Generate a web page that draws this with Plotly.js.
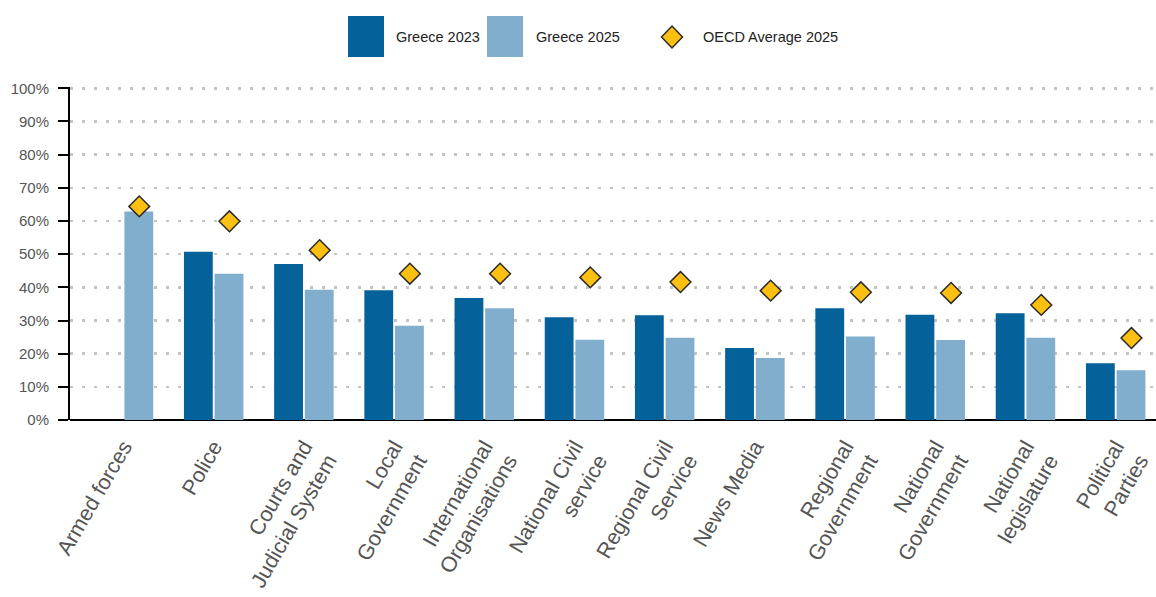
<!DOCTYPE html>
<html>
<head>
<meta charset="utf-8">
<script src="https://cdn.plot.ly/plotly-3.0.1.min.js"></script>
<style>html,body{margin:0;padding:0;background:#fff;}#chart{width:1156px;height:597px;}</style>
</head>
<body>
<div id="chart"></div>
<script>
const categories = ["Armed forces", "Police", "Courts and<br>Judicial System", "Local<br>Government",
  "International<br>Organisations", "National Civil<br>service", "Regional Civil<br>Service", "News Media",
  "Regional<br>Government", "National<br>Government", "National<br>legislature", "Political<br>Parties"];
const greece2023 = [null, 50.7, 47.0, 39.1, 36.8, 31.0, 31.6, 21.7, 33.7, 31.7, 32.2, 17.1];
const greece2025 = [62.9, 44.1, 39.3, 28.4, 33.7, 24.2, 24.8, 18.7, 25.2, 24.1, 24.8, 15.0];
const oecd2025   = [64.4, 59.9, 51.2, 44.1, 44.1, 43.0, 41.6, 39.0, 38.5, 38.3, 34.7, 24.7];
const yTicks = [0, 10, 20, 30, 40, 50, 60, 70, 80, 90, 100];
const yTickLabels = ["0%", "10%", "20%", "30%", "40%", "50%", "60%", "70%", "80%", "90%", "100%"];
const seriesNames = ["Greece 2023", "Greece 2025", "OECD Average 2025"];
const seriesColors = ["#046199", "#80AECC", "#FDC010"];

const FONT = '"Liberation Sans", Arial, sans-serif';
const r0 = -0.593, r1 = 11.447, shift = 0.175;

const traces = [
  {type: 'bar', name: seriesNames[0], x: categories, y: greece2023,
   marker: {color: seriesColors[0]}, showlegend: false},
  {type: 'bar', name: seriesNames[1], x: categories, y: greece2025,
   marker: {color: seriesColors[1]}, showlegend: false},
  {type: 'scatter', mode: 'markers', name: seriesNames[2], x: categories, y: oecd2025,
   xaxis: 'x2', yaxis: 'y', showlegend: false,
   marker: {symbol: 'diamond', size: 16, color: seriesColors[2], line: {color: '#2a2a2a', width: 1.5}}}
];

// custom legend (large swatches as in the original)
const T = 87, B = 177;
const W = 1086, H = 597 - T - B;
const px = v => (v - 70) / W;
const py = v => (420 - v) / H;
const legY = py(37);
const shapes = [
  {type: 'rect', xref: 'paper', yref: 'paper', x0: px(348), x1: px(384), y0: py(57), y1: py(16),
   fillcolor: seriesColors[0], line: {width: 0}},
  {type: 'rect', xref: 'paper', yref: 'paper', x0: px(487), x1: px(523), y0: py(57), y1: py(16),
   fillcolor: seriesColors[1], line: {width: 0}},
  {type: 'path', xref: 'paper', yref: 'paper',
   path: `M ${px(661.5)} ${legY} L ${px(672)} ${py(26)} L ${px(682.5)} ${legY} L ${px(672)} ${py(48)} Z`,
   fillcolor: seriesColors[2], line: {color: '#2a2a2a', width: 1.5}}
];
const legText = [394, 534, 701];
const annotations = seriesNames.map((n, i) => ({
  xref: 'paper', yref: 'paper', x: px(legText[i]), y: legY, xanchor: 'left', yanchor: 'middle',
  text: n, showarrow: false, font: {size: 14.5, color: '#222', family: FONT}
}));

const layout = {
  width: 1156, height: 597,
  margin: {l: 70, r: 0, t: T, b: B},
  paper_bgcolor: '#fff', plot_bgcolor: '#fff',
  font: {family: FONT, color: '#222'},
  barmode: 'group', bargap: 0.32, bargroupgap: 0.06,
  showlegend: false,
  shapes: shapes, annotations: annotations,
  xaxis: {type: 'category', range: [r0, r1], showgrid: false, zeroline: false,
          showline: false, ticks: '', tickangle: -60, ticklabelstandoff: 9,
          tickfont: {size: 21.5, color: '#555', family: FONT}},
  xaxis2: {type: 'category', overlaying: 'x', range: [r0 - shift, r1 - shift], visible: false,
           categoryorder: 'array', categoryarray: categories},
  yaxis: {range: [0, 100.4], tickvals: yTicks, ticktext: yTickLabels,
          showline: true, linecolor: '#000', linewidth: 2,
          ticks: 'outside', ticklen: 10, tickwidth: 2, tickcolor: '#000', ticklabelstandoff: 6,
          tickfont: {size: 15, color: '#555', family: FONT},
          showgrid: true, gridcolor: '#c4c4c4', gridwidth: 2.5, griddash: '3px,9px',
          zeroline: true, zerolinecolor: '#000', zerolinewidth: 2}
};

Plotly.newPlot('chart', traces, layout, {displayModeBar: false, staticPlot: true});
</script>
</body>
</html>
